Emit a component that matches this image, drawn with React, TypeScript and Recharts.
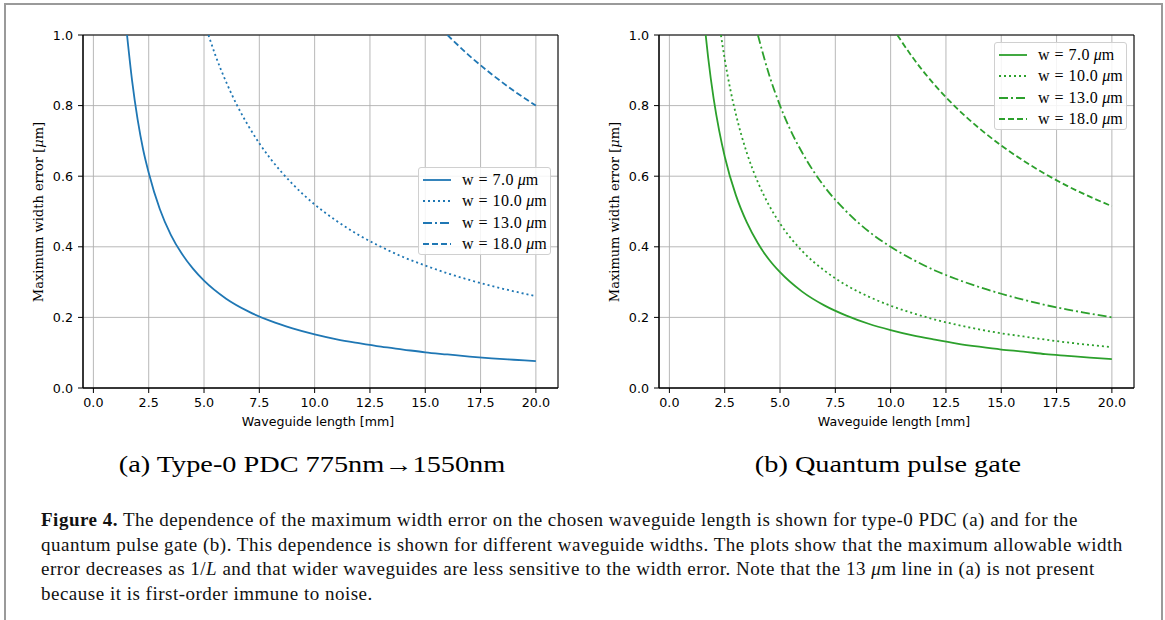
import React from "react";
import {
  LineChart,
  Line,
  XAxis,
  YAxis,
  CartesianGrid,
  ReferenceArea,
} from "recharts";

// values: [waveguide length mm, max width error um]
const pdcW7 = [
  [1.52, 1.0], [1.75, 0.87], [2, 0.76], [2.25, 0.675], [2.5, 0.61], [3, 0.507],
  [3.5, 0.434], [4, 0.38], [4.5, 0.338], [5, 0.304], [6, 0.253], [7, 0.217],
  [8, 0.19], [9, 0.169], [10, 0.152], [11, 0.138], [12, 0.127], [13, 0.117],
  [14, 0.109], [15, 0.101], [16, 0.095], [17, 0.089], [18, 0.084], [19, 0.08], [20, 0.076],
];
const pdcW10 = [
  [5.2, 1.0], [5.5, 0.945], [6, 0.867], [6.5, 0.8], [7, 0.743], [7.5, 0.693],
  [8, 0.65], [9, 0.578], [10, 0.52], [11, 0.473], [12, 0.433], [13, 0.4],
  [14, 0.371], [15, 0.347], [16, 0.325], [17, 0.306], [18, 0.289], [19, 0.274], [20, 0.26],
];
const pdcW18 = [[16, 1.0], [17, 0.941], [18, 0.889], [19, 0.842], [20, 0.8]];

const qpgW7 = [
  [1.64, 1.0], [1.75, 0.937], [2, 0.82], [2.25, 0.729], [2.5, 0.656], [3, 0.547],
  [3.5, 0.469], [4, 0.41], [4.5, 0.364], [5, 0.328], [6, 0.273], [7, 0.234],
  [8, 0.205], [9, 0.182], [10, 0.164], [11, 0.149], [12, 0.137], [13, 0.126],
  [14, 0.117], [15, 0.109], [16, 0.103], [17, 0.096], [18, 0.091], [19, 0.086], [20, 0.082],
];
const qpgW10 = [
  [2.33, 1.0], [2.5, 0.932], [2.75, 0.847], [3, 0.777], [3.5, 0.666], [4, 0.583],
  [4.5, 0.518], [5, 0.466], [6, 0.388], [7, 0.333], [8, 0.291], [9, 0.259],
  [10, 0.233], [11, 0.212], [12, 0.194], [13, 0.179], [14, 0.166], [15, 0.155],
  [16, 0.146], [17, 0.137], [18, 0.129], [19, 0.122], [20, 0.116],
];
const qpgW13 = [
  [4, 1.0], [4.5, 0.889], [5, 0.8], [5.5, 0.727], [6, 0.667], [7, 0.571],
  [8, 0.5], [9, 0.444], [10, 0.4], [11, 0.364], [12, 0.333], [13, 0.308],
  [14, 0.286], [15, 0.267], [16, 0.25], [17, 0.235], [18, 0.222], [19, 0.211], [20, 0.2],
];
const qpgW18 = [
  [10.3, 1.0], [11, 0.936], [12, 0.858], [13, 0.792], [14, 0.736], [15, 0.687],
  [16, 0.644], [17, 0.606], [18, 0.572], [19, 0.542], [20, 0.515],
];

const widthLabels = ["7.0", "10.0", "13.0", "18.0"];
const xTicks = [0, 2.5, 5, 7.5, 10, 12.5, 15, 17.5, 20];
const yTicks = [0, 0.2, 0.4, 0.6, 0.8, 1.0];

// matplotlib-ish linestyles: solid, dotted, dashdot, dashed
const dashes = ["", "2 3", "9 3 2 3", "6 3"];

const toPoints = (pairs: number[][]) => pairs.map(([x, y]) => ({ x, y }));

type Series = { data: number[][] | null; dash: string };

const BLUE = "#1f77b4";
const GREEN = "#2ca02c";

const tickStyle = { fill: "#000", fontSize: 12.7, fontFamily: "DejaVu Sans" };

function Legend({ color, left, top }: { color: string; left: number; top: number }) {
  return (
    <div
      style={{
        position: "absolute",
        left,
        top,
        width: 133,
        height: 88,
        border: "1px solid #d0d0d0",
        borderRadius: 3,
        background: "rgba(255,255,255,0.85)",
        boxSizing: "border-box",
        fontFamily: "Liberation Serif",
        fontSize: 16,
      }}
    >
      {widthLabels.map((w, i) => (
        <div
          key={w}
          style={{ position: "absolute", left: 4, top: 3 + i * 21.3, height: 18, display: "flex", alignItems: "center", whiteSpace: "nowrap" }}
        >
          <svg width={29} height={6} style={{ marginRight: 10 }}>
            <line x1={0} x2={28} y1={3} y2={3} stroke={color} strokeWidth={1.8} strokeDasharray={dashes[i]} />
          </svg>
          <span>w</span>
          <span style={{ margin: "0 5px" }}>=</span>
          <span style={{ marginRight: 4, letterSpacing: 0.4 }}>{w}</span>
          <span>
            <i>μ</i>m
          </span>
        </div>
      ))}
    </div>
  );
}

function Panel({ series, color, left, legendPos, caption }: {
  series: Series[];
  color: string;
  left: number;
  legendPos: { left: number; top: number };
  caption: string;
}) {
  return (
    <div style={{ position: "absolute", left, top: 0, width: 580, height: 480 }}>
      <LineChart width={580} height={430} margin={{ top: 35, right: 22, left: 38, bottom: 12 }}>
        <CartesianGrid stroke="#b0b0b0" strokeWidth={0.9} />
        <XAxis
          type="number"
          dataKey="x"
          domain={[-0.47, 21.0]}
          allowDataOverflow
          ticks={xTicks}
          tickFormatter={(v: number) => v.toFixed(1)}
          tick={tickStyle}
          tickSize={5}
          tickMargin={5}
          height={30}
          axisLine={{ stroke: "#000" }}
          tickLine={{ stroke: "#000" }}
        />
        <YAxis
          type="number"
          dataKey="y"
          domain={[0, 1]}
          allowDataOverflow
          ticks={yTicks}
          tickFormatter={(v: number) => v.toFixed(1)}
          tick={tickStyle}
          tickSize={5}
          tickMargin={5}
          width={45}
          axisLine={{ stroke: "#000" }}
          tickLine={{ stroke: "#000" }}
        />
        {series.map((s, i) =>
          s.data ? (
            <Line
              key={i}
              data={toPoints(s.data)}
              dataKey="y"
              type="monotone"
              stroke={color}
              strokeWidth={1.8}
              strokeDasharray={s.dash || undefined}
              dot={false}
              activeDot={false}
              isAnimationActive={false}
            />
          ) : null
        )}
        <ReferenceArea x1={-0.47} x2={21.0} y1={0} y2={1} fill="none" stroke="#000" strokeWidth={1} />
      </LineChart>
      <div
        style={{
          position: "absolute",
          left: 38,
          top: 212,
          transform: "translate(-50%, -50%) rotate(-90deg)",
          whiteSpace: "nowrap",
          fontFamily: "DejaVu Serif",
          fontSize: 13,
        }}
      >
        Maximum width error [<i>μ</i>m]
      </div>
      <div
        style={{
          position: "absolute",
          left: 318,
          top: 421,
          transform: "translate(-50%, -50%)",
          whiteSpace: "nowrap",
          fontFamily: "DejaVu Sans",
          fontSize: 12.6,
        }}
      >
        Waveguide length [mm]
      </div>
      <Legend color={color} left={legendPos.left} top={legendPos.top} />
      <div
        style={{
          position: "absolute",
          left: 312,
          top: 465,
          transform: "translate(-50%, -50%) scaleX(1.23)",
          whiteSpace: "nowrap",
          fontFamily: "Liberation Serif",
          fontSize: 23,
        }}
      >
        {caption}
      </div>
    </div>
  );
}

const captionLines = [
  <>
    <b>Figure 4.</b> The dependence of the maximum width error on the chosen waveguide length is shown for type-0 PDC (a) and for the
  </>,
  <>quantum pulse gate (b). This dependence is shown for different waveguide widths. The plots show that the maximum allowable width</>,
  <>
    error decreases as 1/<i>L</i> and that wider waveguides are less sensitive to the width error. Note that the 13 <i>μ</i>m line in (a) is not present
  </>,
  <>because it is first-order immune to noise.</>,
];

export default function App() {
  return (
    <div style={{ position: "absolute", left: 0, top: 0, width: 1165, height: 620, background: "#fff", overflow: "hidden" }}>
      <div
        style={{
          position: "absolute",
          left: 4,
          top: 3,
          width: 1159,
          height: 640,
          borderLeft: "2px solid #9a9a9a",
          borderTop: "2px solid #9a9a9a",
          borderRight: "2px solid #9a9a9a",
          boxSizing: "border-box",
        }}
      />
      <Panel
        series={[
          { data: pdcW7, dash: dashes[0] },
          { data: pdcW10, dash: dashes[1] },
          { data: null, dash: dashes[2] },
          { data: pdcW18, dash: dashes[3] },
        ]}
        color={BLUE}
        left={0}
        legendPos={{ left: 418, top: 167 }}
        caption="(a) Type-0 PDC 775nm→1550nm"
      />
      <Panel
        series={[
          { data: qpgW7, dash: dashes[0] },
          { data: qpgW10, dash: dashes[1] },
          { data: qpgW13, dash: dashes[2] },
          { data: qpgW18, dash: dashes[3] },
        ]}
        color={GREEN}
        left={576}
        legendPos={{ left: 418, top: 42 }}
        caption="(b) Quantum pulse gate"
      />
      <div
        style={{
          position: "absolute",
          left: 41,
          top: 508,
          fontFamily: "Liberation Serif",
          fontSize: 19,
          letterSpacing: 0.5,
          lineHeight: "24.5px",
          color: "#111",
        }}
      >
        {captionLines.map((l, i) => (
          <div key={i} style={{ whiteSpace: "nowrap" }}>
            {l}
          </div>
        ))}
      </div>
    </div>
  );
}
